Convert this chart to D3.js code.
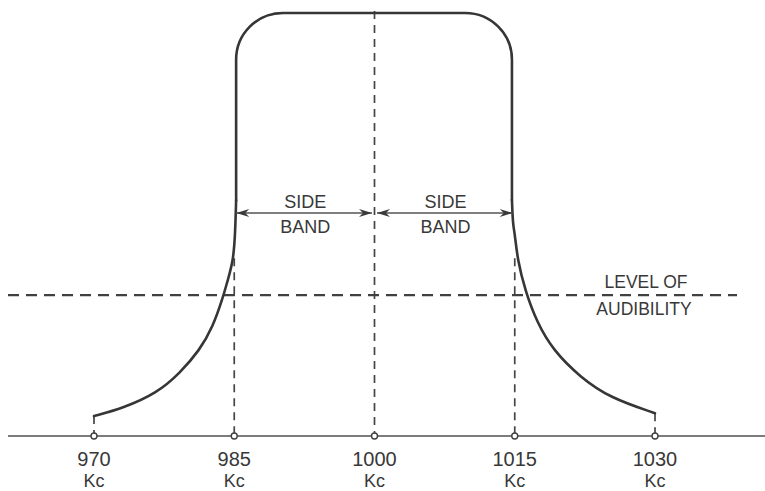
<!DOCTYPE html>
<html>
<head>
<meta charset="utf-8">
<script src="https://d3js.org/d3.v7.min.js"></script>
<style>
  html, body { margin: 0; padding: 0; background: #fff; }
  svg { display: block; }
  text { font-family: "Liberation Sans", Arial, sans-serif; fill: #383838; }
</style>
</head>
<body>
<svg id="chart" width="765" height="491"></svg>
<script>
// ---- data ----
const tickFreqs = [970, 985, 1000, 1015, 1030];
const tickLabels = ["970", "985", "1000", "1015", "1030"];
const tickUnit = "Kc";
// response curve skirts (frequency in Kc, relative amplitude %)
const leftSkirtFreq  = [970, 973.1, 976.7, 979.2, 981.3, 982.7, 983.8, 984.3, 984.9, 985.1, 985.2];
const leftSkirtAmp   = [4.7, 6.6, 10.1, 14.9, 20.3, 25.7, 32.8, 36.8, 41.5, 47.9, 55.7];
const rightSkirtFreq = [1014.7, 1014.8, 1015.0, 1015.3, 1016.1, 1017.4, 1019.1, 1022.0, 1025.2, 1030];
const rightSkirtAmp  = [55.8, 50.0, 48.0, 41.6, 34.5, 26.7, 20.3, 13.9, 9.0, 5.4];
// flat top of the pass band
const bandEdgeFreq = [985.2, 1014.7];
const topAmp = 100;
const cornerRadiusKc = 5;
const audibilityLevel = 33.3;
const audibilityLabel = ["LEVEL OF", "AUDIBILITY"];
const sideBandStart = [985, 1000];
const sideBandEnd = [1000, 1015];
const sideBandLabel = ["SIDE", "BAND"];
const edgeGuideAmp = 42;     // where the 985/1015 guides start
const centreGuideAmp = 100.5;

// ---- scales ----
const svg = d3.select("#chart");
const x = d3.scaleLinear().domain([970, 1030]).range([94, 655]);
const y = d3.scaleLinear().domain([0, 100]).range([436, 13]);

const ink = "#363636";

// baseline
svg.append("line")
  .attr("x1", 8).attr("x2", 765)
  .attr("y1", y(0)).attr("y2", y(0))
  .attr("stroke", "#505050").attr("stroke-width", 1.6);

// vertical guides
const guideTop = [leftSkirtAmp[0], edgeGuideAmp, centreGuideAmp, edgeGuideAmp, rightSkirtAmp[rightSkirtAmp.length - 1]];
svg.selectAll(".guide").data(tickFreqs).join("line")
  .attr("class", "guide")
  .attr("x1", d => x(d)).attr("x2", d => x(d))
  .attr("y1", (d, i) => y(guideTop[i])).attr("y2", y(0))
  .attr("stroke", "#454545").attr("stroke-width", 1.7)
  .attr("stroke-dasharray", "8,6");

// level of audibility
svg.append("line")
  .attr("x1", 8).attr("x2", 737)
  .attr("y1", y(audibilityLevel)).attr("y2", y(audibilityLevel))
  .attr("stroke", "#404040").attr("stroke-width", 2.2)
  .attr("stroke-dasharray", "11,7");

// response curve
const skirtLine = d3.line().x(d => x(d[0])).y(d => y(d[1])).curve(d3.curveBasis);
const leftPts = leftSkirtFreq.map((f, i) => [f, leftSkirtAmp[i]]);
const rightPts = rightSkirtFreq.map((f, i) => [f, rightSkirtAmp[i]]);
const curveStyle = sel => sel.attr("fill", "none").attr("stroke", ink)
  .attr("stroke-width", 2.6).attr("stroke-linejoin", "round").attr("stroke-linecap", "round");

svg.append("path").datum(leftPts).attr("d", skirtLine).call(curveStyle);
svg.append("path").datum(rightPts).attr("d", skirtLine).call(curveStyle);

const cornerR = x(bandEdgeFreq[0] + cornerRadiusKc) - x(bandEdgeFreq[0]);
const bandTopPath = d3.path();
bandTopPath.moveTo(x(bandEdgeFreq[0]), y(leftSkirtAmp[leftSkirtAmp.length - 1]));
bandTopPath.arcTo(x(bandEdgeFreq[0]), y(topAmp), x(1000), y(topAmp), cornerR);
bandTopPath.arcTo(x(bandEdgeFreq[1]), y(topAmp), x(bandEdgeFreq[1]), y(rightSkirtAmp[0]), cornerR);
bandTopPath.lineTo(x(bandEdgeFreq[1]), y(rightSkirtAmp[0]));
svg.append("path").attr("d", bandTopPath.toString()).call(curveStyle);

// tick circles
svg.selectAll(".tick").data(tickFreqs).join("circle")
  .attr("cx", d => x(d)).attr("cy", y(0)).attr("r", 3)
  .attr("fill", "#fff").attr("stroke", "#404040").attr("stroke-width", 1.4);

// tick labels
svg.selectAll(".tlab").data(tickLabels).join("text")
  .attr("x", (d, i) => x(tickFreqs[i])).attr("y", 466)
  .attr("text-anchor", "middle").attr("font-size", 20)
  .text(d => d);
svg.selectAll(".tunit").data(tickFreqs).join("text")
  .attr("x", d => x(d)).attr("y", 487)
  .attr("text-anchor", "middle").attr("font-size", 18)
  .text(tickUnit);

// side band arrows
const arrowY = 213;
sideBandStart.forEach((s, i) => {
  const x1 = x(s) + (i === 0 ? 2 : 2.5);
  const x2 = x(sideBandEnd[i]) - (i === 0 ? 2.5 : 2);
  svg.append("line")
    .attr("x1", x1).attr("x2", x2).attr("y1", arrowY).attr("y2", arrowY)
    .attr("stroke", "#555").attr("stroke-width", 1.3);
  const head = (tip, dir) => {
    const L = 13, H = 4;
    return `M${tip},${arrowY} L${tip + dir * L},${arrowY - H} L${tip + dir * (L - 4)},${arrowY} L${tip + dir * L},${arrowY + H} Z`;
  };
  svg.append("path").attr("d", head(x1, 1)).attr("fill", "#3a3a3a");
  svg.append("path").attr("d", head(x2, -1)).attr("fill", "#3a3a3a");
  const cx = (x(s) + x(sideBandEnd[i])) / 2 + 1;
  svg.append("text").attr("x", cx).attr("y", 208)
    .attr("text-anchor", "middle").attr("font-size", 18).text(sideBandLabel[0]);
  svg.append("text").attr("x", cx).attr("y", 233)
    .attr("text-anchor", "middle").attr("font-size", 18).text(sideBandLabel[1]);
});

// level of audibility label
svg.append("text").attr("x", 646).attr("y", 288)
  .attr("text-anchor", "middle").attr("font-size", 17.5).text(audibilityLabel[0]);
svg.append("text").attr("x", 644).attr("y", 315)
  .attr("text-anchor", "middle").attr("font-size", 17.5).text(audibilityLabel[1]);
</script>
</body>
</html>
